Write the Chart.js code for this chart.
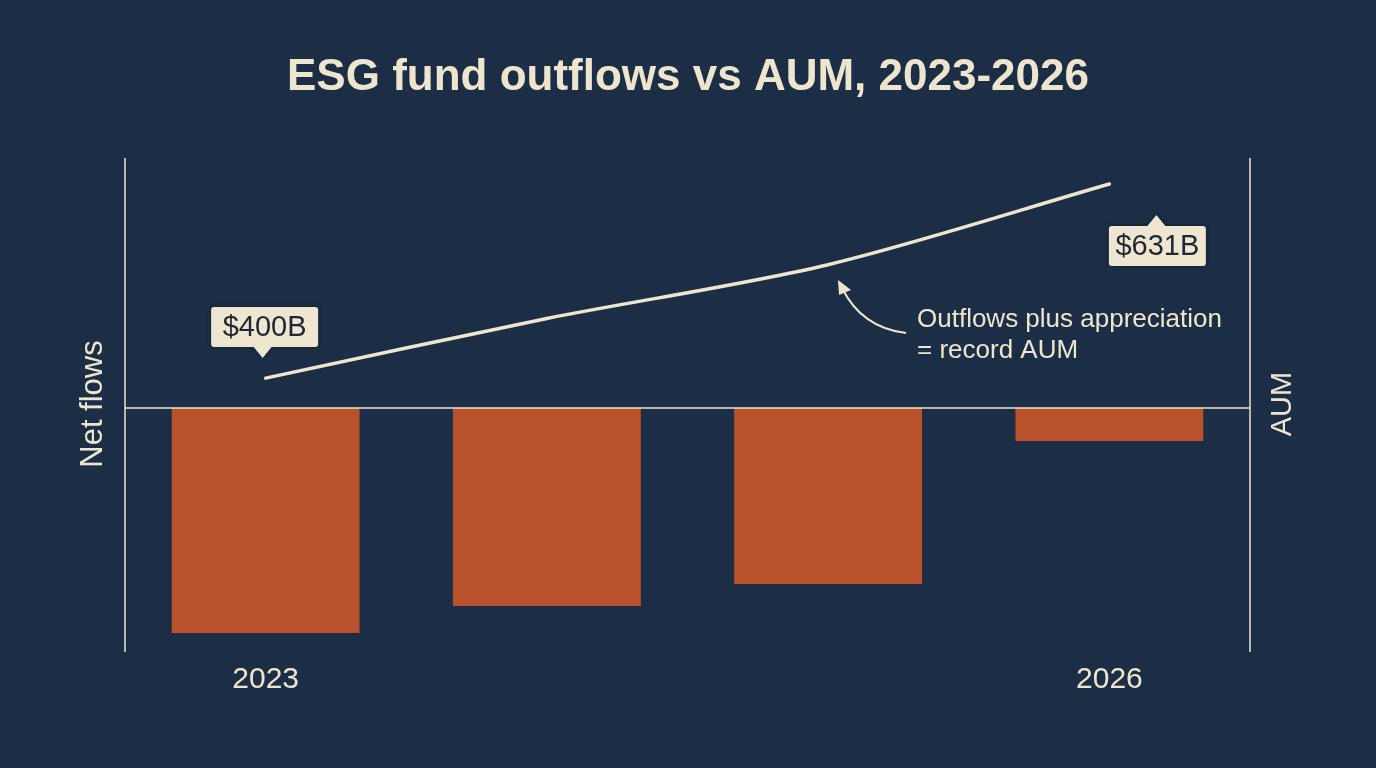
<!DOCTYPE html>
<html>
<head>
<meta charset="utf-8">
<script src="https://cdn.jsdelivr.net/npm/chart.js@4"></script>
<style>
  html, body { margin:0; padding:0; background:#1b2e45; }
  #wrap { width:1376px; height:768px; position:relative; }
</style>
</head>
<body>
<div id="wrap"><canvas id="c" width="1376" height="768"></canvas></div>
<script>
const categories = ['2023', '2024', '2025', '2026'];
const shownLabels = ['2023', '2026'];
const netFlows = [-22.5, -19.8, -17.6, -3.3];   // $B net flows (estimated)
const aum = [400, 471, 535, 631];               // $B AUM
const aumLabels = ['$400B', '$631B'];
const titleText = 'ESG fund outflows vs AUM, 2023-2026';
const leftTitle = 'Net flows';
const rightTitle = 'AUM';
const noteLines = ['Outflows plus appreciation', '= record AUM'];

const CREAM = '#eee5cf';
const BG = '#1b2e45';
const BAR = '#b9522a';
const FONT = '"Liberation Sans", Arial, sans-serif';

function callout(ctx, cx, cy, w, h, tipDir, tipX, text) {
  const x = cx - w / 2, y = cy - h / 2, r = 3, t = 11, tw = 9;
  ctx.save();
  ctx.fillStyle = '#efe6d1';
  ctx.shadowColor = 'rgba(0,0,0,0.35)';
  ctx.shadowBlur = 4;
  ctx.beginPath();
  ctx.moveTo(x + r, y);
  if (tipDir === 'up') {
    ctx.lineTo(tipX - tw, y); ctx.lineTo(tipX, y - t); ctx.lineTo(tipX + tw, y);
  }
  ctx.lineTo(x + w - r, y);
  ctx.quadraticCurveTo(x + w, y, x + w, y + r);
  ctx.lineTo(x + w, y + h - r);
  ctx.quadraticCurveTo(x + w, y + h, x + w - r, y + h);
  if (tipDir === 'down') {
    ctx.lineTo(tipX + tw, y + h); ctx.lineTo(tipX, y + h + t); ctx.lineTo(tipX - tw, y + h);
  }
  ctx.lineTo(x + r, y + h);
  ctx.quadraticCurveTo(x, y + h, x, y + h - r);
  ctx.lineTo(x, y + r);
  ctx.quadraticCurveTo(x, y, x + r, y);
  ctx.closePath();
  ctx.fill();
  ctx.shadowBlur = 0;
  ctx.fillStyle = '#1e2733';
  ctx.font = '29px ' + FONT;
  ctx.textAlign = 'center';
  ctx.textBaseline = 'middle';
  ctx.fillText(text, cx, cy + 1);
  ctx.restore();
}

const decor = {
  id: 'decor',
  beforeDraw(chart) {
    const { ctx } = chart;
    ctx.save();
    ctx.fillStyle = BG;
    ctx.fillRect(0, 0, chart.width, chart.height);
    ctx.restore();
  },
  afterDatasetsDraw(chart) {
    const { ctx, chartArea: a, scales } = chart;
    ctx.save();
    ctx.strokeStyle = CREAM;
    ctx.lineWidth = 1.5;
    ctx.beginPath();
    ctx.moveTo(a.left, a.top); ctx.lineTo(a.left, a.bottom);
    ctx.moveTo(a.right, a.top); ctx.lineTo(a.right, a.bottom);
    ctx.stroke();
    const y0 = scales.y.getPixelForValue(0);
    ctx.beginPath();
    ctx.moveTo(a.left, y0); ctx.lineTo(a.right, y0);
    ctx.stroke();

    // title
    ctx.fillStyle = CREAM;
    ctx.font = 'bold 44px ' + FONT;
    ctx.textAlign = 'center';
    ctx.textBaseline = 'middle';
    ctx.fillText(titleText, 688, 78);

    // axis titles
    ctx.font = '31px ' + FONT;
    ctx.save();
    ctx.translate(93, y0 - 4);
    ctx.rotate(-Math.PI / 2);
    ctx.fillText(leftTitle, 0, 0);
    ctx.restore();
    ctx.font = '29px ' + FONT;
    ctx.save();
    ctx.translate(1283, y0 - 4);
    ctx.rotate(-Math.PI / 2);
    ctx.fillText(rightTitle, 0, 0);
    ctx.restore();

    // callouts
    const meta = chart.getDatasetMeta(1);
    const p0 = meta.data[0], pN = meta.data[meta.data.length - 1];
    callout(ctx, p0.x - 1, p0.y - 51, 107, 40, 'down', p0.x - 3, aumLabels[0]);
    callout(ctx, pN.x + 48, pN.y + 62, 97, 40, 'up', pN.x + 47, aumLabels[1]);

    // note text
    ctx.fillStyle = CREAM;
    ctx.font = '26px ' + FONT;
    ctx.textAlign = 'left';
    ctx.fillText(noteLines[0], 917, 320);
    ctx.fillText(noteLines[1], 917, 351);

    // curved arrow
    ctx.strokeStyle = CREAM;
    ctx.lineWidth = 2;
    ctx.beginPath();
    ctx.moveTo(906, 333);
    ctx.quadraticCurveTo(862, 328, 842, 288);
    ctx.stroke();
    ctx.beginPath();
    ctx.moveTo(838, 280);
    ctx.lineTo(851, 290);
    ctx.lineTo(839, 295);
    ctx.closePath();
    ctx.fillStyle = CREAM;
    ctx.fill();
    ctx.restore();
  }
};

new Chart(document.getElementById('c'), {
  data: {
    labels: categories,
    datasets: [
      {
        type: 'bar',
        label: 'Net flows',
        data: netFlows,
        backgroundColor: BAR,
        borderWidth: 0,
        barPercentage: 0.668,
        categoryPercentage: 1.0,
        yAxisID: 'y',
        order: 2
      },
      {
        type: 'line',
        label: 'AUM',
        data: aum,
        borderColor: CREAM,
        borderWidth: 3.5,
        borderCapStyle: 'round',
        tension: 0.3,
        pointRadius: 0,
        fill: false,
        yAxisID: 'y1',
        order: 1
      }
    ]
  },
  options: {
    responsive: false,
    animation: false,
    devicePixelRatio: 1,
    layout: { padding: { left: 125, right: 126, top: 158, bottom: 72 } },
    plugins: {
      legend: { display: false },
      tooltip: { enabled: false },
      title: { display: false }
    },
    scales: {
      x: {
        type: 'category',
        offset: true,
        grid: { display: false },
        border: { display: false },
        afterFit: function (scale) { scale.height = 44; },
        ticks: {
          color: CREAM,
          font: { family: FONT, size: 30 },
          padding: 2,
          maxRotation: 0,
          autoSkip: false,
          callback: function (v, i) {
            const l = categories[i];
            return shownLabels.includes(l) ? l : '';
          }
        }
      },
      y: { display: false, min: -24.4, max: 25 },
      y1: { display: false, position: 'right', min: 74, max: 662 }
    }
  },
  plugins: [decor]
});
</script>
</body>
</html>
